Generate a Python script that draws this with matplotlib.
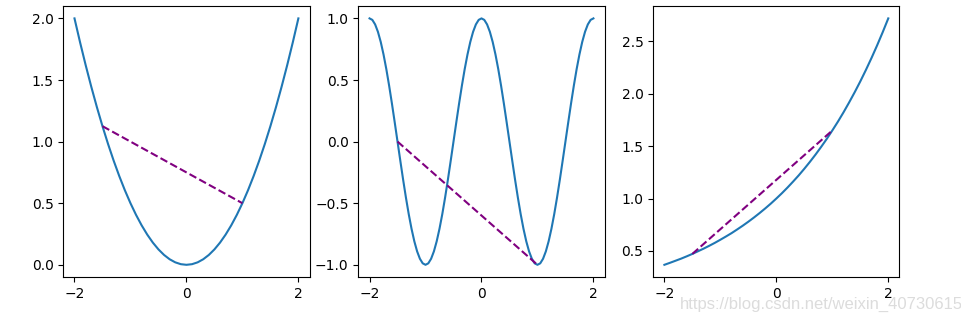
import matplotlib
matplotlib.use('Agg')
import matplotlib.pyplot as plt
import numpy as np

# x grids for the curves (-2 .. 2)
x_f = np.round(np.arange(-20, 21) * 0.1, 2)
x_g = np.round(np.arange(-40, 41) * 0.05, 2)
x_h = np.round(np.arange(-20, 21) * 0.1, 2)

# curve values
f_vals = [2.0, 1.805, 1.62, 1.445, 1.28, 1.125, 0.98, 0.845, 0.72, 0.605,
          0.5, 0.405, 0.32, 0.245, 0.18, 0.125, 0.08, 0.045, 0.02, 0.005,
          0.0,
          0.005, 0.02, 0.045, 0.08, 0.125, 0.18, 0.245, 0.32, 0.405, 0.5,
          0.605, 0.72, 0.845, 0.98, 1.125, 1.28, 1.445, 1.62, 1.805, 2.0]

# one period of the wavy curve, repeated twice, plus the last point
g_period = [1.0, 0.988, 0.951, 0.891, 0.809, 0.707, 0.588, 0.454, 0.309, 0.156,
            0.0, -0.156, -0.309, -0.454, -0.588, -0.707, -0.809, -0.891, -0.951,
            -0.988, -1.0, -0.988, -0.951, -0.891, -0.809, -0.707, -0.588, -0.454,
            -0.309, -0.156, 0.0, 0.156, 0.309, 0.454, 0.588, 0.707, 0.809, 0.891,
            0.951, 0.988]
g_vals = g_period * 2 + [1.0]

h_vals = [0.368, 0.387, 0.407, 0.427, 0.449, 0.472, 0.497, 0.522, 0.549, 0.577,
          0.607, 0.638, 0.670, 0.705, 0.741, 0.779, 0.819, 0.861, 0.905, 0.951,
          1.0, 1.051, 1.105, 1.162, 1.221, 1.284, 1.350, 1.419, 1.492, 1.568,
          1.649, 1.733, 1.822, 1.916, 2.014, 2.117, 2.226, 2.340, 2.460, 2.586,
          2.718]

# dashed chord end points
seg_x = [-1.5, 1.0]
seg_f = [1.125, 0.5]
seg_g = [0.0, -1.0]
seg_h = [0.472, 1.649]

fig = plt.figure(figsize=(9.62, 3.2), dpi=100)
lefts = [0.0658, 0.3725, 0.679]
axes = [fig.add_axes([l, 0.134, 0.256, 0.847]) for l in lefts]

curves = [(x_f, f_vals, seg_f), (x_g, g_vals, seg_g), (x_h, h_vals, seg_h)]
for ax, (xs, ys, sy) in zip(axes, curves):
    ax.plot(xs, ys, color='#1f77b4', lw=1.5)
    ax.plot(seg_x, sy, color='purple', ls='--', lw=1.5)
    ax.set_xticks([-2, 0, 2])

axes[0].set_yticks([0.0, 0.5, 1.0, 1.5, 2.0])
axes[1].set_yticks([-1.0, -0.5, 0.0, 0.5, 1.0])
axes[2].set_yticks([0.5, 1.0, 1.5, 2.0, 2.5])

# watermark along the bottom right
fig.text(0.707, 0.035, 'https://blog.csdn.net/weixin_40730615',
         fontsize=12, color='#dcdcdc', family='Liberation Sans')

fig.savefig('out.png', dpi=100)
